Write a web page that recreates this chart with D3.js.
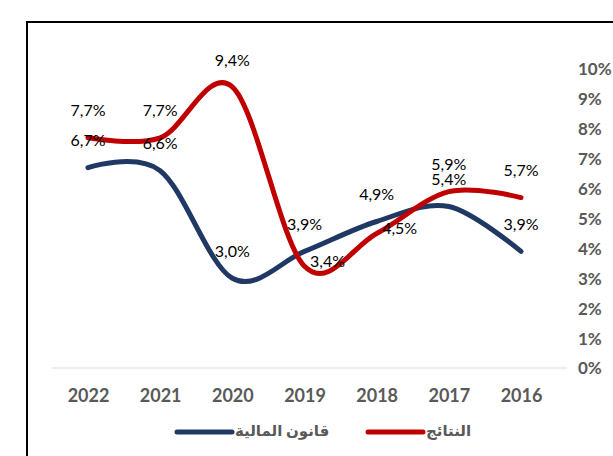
<!DOCTYPE html>
<html>
<head>
<meta charset="utf-8">
<script src="https://cdn.jsdelivr.net/npm/d3@7"></script>
<style>
  body { margin: 0; background: #fff; }
  svg { display: block; }
  text { font-family: Lato, "DejaVu Sans", sans-serif; }
</style>
</head>
<body>
<script>
// years, shown right-to-left like the original
const years = ["2022", "2021", "2020", "2019", "2018", "2017", "2016"];
const budgetLaw = [6.7, 6.6, 3.0, 3.9, 4.9, 5.4, 3.9];   // قانون المالية
const results   = [7.7, 7.7, 9.4, 3.4, 4.5, 5.9, 5.7];   // النتائج
const yTicks = [0, 1, 2, 3, 4, 5, 6, 7, 8, 9, 10];
// where Excel put each data label: t = above, r = right
const budgetLabelPos  = ["t", "t", "t", "t", "t", "t", "t"];
const resultsLabelPos = ["t", "t", "t", "r", "r", "t", "t"];

const W = 613, H = 456;

const series = [
  { name: "قانون المالية", values: budgetLaw, pos: budgetLabelPos, color: "#203864" },
  { name: "النتائج", values: results, pos: resultsLabelPos, color: "#C00000" }
];

const svg = d3.select("body").append("svg")
  .attr("width", W)
  .attr("height", H);

// chart frame (continues past the right and bottom edges)
svg.append("rect")
  .attr("x", 27).attr("y", 22)
  .attr("width", 700).attr("height", 500)
  .attr("fill", "none")
  .attr("stroke", "#000")
  .attr("stroke-width", 2);

const x = d3.scalePoint().domain(years).range([88, 521]);
const y = d3.scaleLinear().domain([0, 10]).range([368, 69]);

// base line at 0%
svg.append("line")
  .attr("x1", 52).attr("x2", 567)
  .attr("y1", y(0)).attr("y2", y(0))
  .attr("stroke", "#d9d9d9")
  .attr("stroke-width", 1);

// y axis on the right, labels only
const yAxis = svg.append("g")
  .attr("transform", "translate(578,0)")
  .call(d3.axisRight(y).tickValues(yTicks).tickSize(0).tickPadding(0).tickFormat(d => d + "%"));
yAxis.select(".domain").remove();
yAxis.selectAll("text")
  .attr("dy", "0.35em")
  .style("font-size", "17px")
  .style("font-weight", "bold")
  .attr("fill", "#595959");

// x axis labels
const xAxis = svg.append("g")
  .attr("transform", "translate(0,389)")
  .call(d3.axisBottom(x).tickSize(0).tickPadding(0));
xAxis.select(".domain").remove();
xAxis.selectAll("text")
  .attr("y", 0)
  .attr("dy", "0.7em")
  .style("font-size", "18px")
  .style("font-weight", "bold")
  .attr("fill", "#595959");

const line = d3.line()
  .x((d, i) => x(years[i]))
  .y(d => y(d))
  .curve(d3.curveCatmullRom.alpha(0));

svg.selectAll(".series")
  .data(series)
  .enter().append("path")
  .attr("class", "series")
  .attr("d", d => line(d.values))
  .attr("fill", "none")
  .attr("stroke", d => d.color)
  .attr("stroke-width", 5)
  .attr("stroke-linecap", "round")
  .attr("stroke-linejoin", "round");

const fmt = v => v.toFixed(1).replace(".", ",") + "%";

series.forEach(s => {
  svg.selectAll(null)
    .data(s.values)
    .enter().append("text")
    .attr("x", (d, i) => x(years[i]) + (s.pos[i] === "r" ? 23 : 0))
    .attr("y", (d, i) => y(d) + (s.pos[i] === "r" ? -5 : -27))
    .attr("dy", "0.35em")
    .attr("text-anchor", "middle")
    .style("font-size", "16px")
    .attr("fill", "#000")
    .text(d => fmt(d));
});

// legend
const legend = [
  { s: series[0], x1: 177, x2: 232, tx: 235 },
  { s: series[1], x1: 368, x2: 423, tx: 426 }
];
legend.forEach(l => {
  svg.append("line")
    .attr("x1", l.x1).attr("x2", l.x2)
    .attr("y1", 432).attr("y2", 432)
    .attr("stroke", l.s.color)
    .attr("stroke-width", 5)
    .attr("stroke-linecap", "round");
  svg.append("text")
    .attr("x", l.tx).attr("y", 431)
    .attr("dy", "0.3em")
    .attr("text-anchor", "start")
    .attr("direction", "ltr")
    .style("font-size", "15px")
    .style("font-weight", "bold")
    .attr("fill", "#595959")
    .text(l.s.name);
});
</script>
</body>
</html>
